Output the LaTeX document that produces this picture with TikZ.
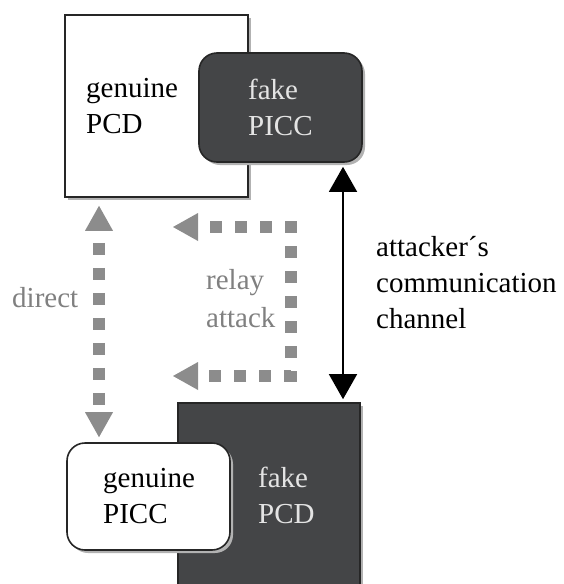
\documentclass[tikz,border=0pt]{standalone}
\usepackage{fontspec}
\setmainfont{Liberation Serif}
\usetikzlibrary{arrows.meta,shadows,calc}
\definecolor{darkbox}{RGB}{68,69,71}
\definecolor{lighttext}{RGB}{228,228,228}
\definecolor{relaygray}{RGB}{140,140,140}
\definecolor{labelgray}{RGB}{128,128,128}
\tikzset{
  boxshadow/.style={drop shadow={shadow xshift=3pt, shadow yshift=-3pt, fill=black!30, opacity=1}},
  squarebox/.style={draw=black!85, line width=1.6pt, inner sep=0pt, boxshadow},
  roundbox/.style={draw=black!85, line width=1.6pt, inner sep=0pt, rounded corners=18pt, boxshadow},
  % the base anchor of a multi-line label sits on its last line
  lbl/.style={font=\fontsize{29}{36}\selectfont, align=left, inner sep=0pt, anchor=base west},
  dotarrow/.style={draw=relaygray, line width=12pt, dash pattern=on 12pt off 13pt, dash phase=13pt,
    {Triangle[length=25pt,width=28pt,fill=relaygray,line width=0pt]}-{Triangle[length=25pt,width=28pt,fill=relaygray,line width=0pt]}},
  chanarrow/.style={draw=black, line width=1.4pt,
    {Triangle[length=25pt,width=28pt]}-{Triangle[length=25pt,width=28pt]}}
}
\begin{document}
\begin{tikzpicture}[x=1pt,y=-1pt]
  \useasboundingbox (0,0) rectangle (563,584);

  % upper pair: genuine reader with the attacker's fake card
  \node[squarebox, fill=white, minimum width=183pt, minimum height=182pt] (gpcd) at (156.5,106) {};
  \node[roundbox, fill=darkbox, minimum width=163pt, minimum height=109pt] (fpicc) at (280.5,107.5) {};
  \node[lbl] (gpcdtxt) at (86,133) {genuine\\PCD};
  \node[lbl, text=lighttext] (fpicctxt) at (248,135) {fake\\PICC};

  % lower pair: attacker's fake reader with the genuine card
  \node[squarebox, fill=darkbox, minimum width=182pt, minimum height=190pt] (fpcd) at (269,498) {};
  \node[roundbox, fill=white, minimum width=163pt, minimum height=107pt] (gpicc) at (148.5,496.5) {};
  \node[lbl] (gpicctxt) at (103,523) {genuine\\PICC};
  \node[lbl, text=lighttext] (fpcdtxt) at (258,523) {fake\\PCD};

  % attacker's channel between the two fake devices
  \coordinate (chx) at (343,0);
  \draw[chanarrow] ([yshift=-4pt]fpicc.south -| chx) -- ([yshift=3pt]fpcd.north -| chx);
  \node[lbl] (chantxt) at (376,328) {attacker´s\\communication\\channel};

  % direct link between genuine reader and genuine card
  \coordinate (dx) at (99,0);
  \draw[dotarrow] ([yshift=-8pt]gpcd.south -| dx) -- ([yshift=5pt]gpicc.north -| dx);
  \node[lbl, text=labelgray] (directtxt) at (12,307) {direct};

  % relay path through the attacker
  \coordinate (rtop) at (173,227);
  \coordinate (rne) at (291,227);
  \coordinate (rse) at (291,376);
  \coordinate (rbot) at (173,376);
  \draw[dotarrow] (rtop) -- (rne) -- (rse) -- (rbot);
  \node[lbl, text=labelgray, font=\fontsize{29}{38}\selectfont] (relaytxt) at (206,327) {relay\\attack};
\end{tikzpicture}
\end{document}
